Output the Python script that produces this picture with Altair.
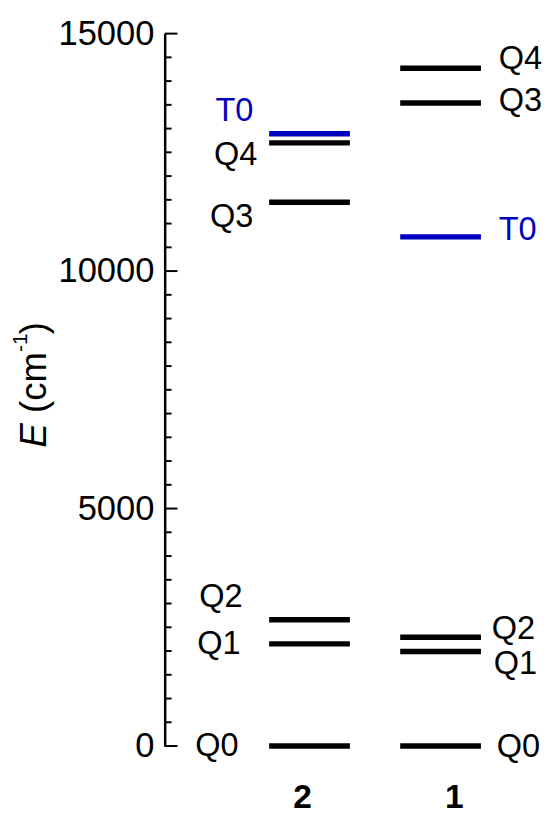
import altair as alt
import pandas as pd

# ---- data ----
states = ["Q0", "Q1", "Q2", "Q3", "Q4", "T0"]
energy_col2 = [0, 2150, 2660, 11450, 12700, 12890]   # column labelled "2"
energy_col1 = [0, 1990, 2290, 13540, 14270, 10720]   # column labelled "1"
columns = ["2", "1"]
column_pos = [1, 2]
y_major = [0, 5000, 10000, 15000]
y_minor = [v for v in range(500, 15000, 500) if v % 5000 != 0]

# ---- styling / layout (not data) ----
FONT = "Liberation Sans"
BLUE = "#0000c0"
HALF = 0.308           # half-length of a level line in x units
W, H = 388, 723
# label nudges (gap px from line end, dy px)
nudge_col2 = {"T0": (16, -23), "Q4": (12, 12), "Q3": (16, 15),
              "Q2": (27, -23), "Q1": (29, 0), "Q0": (31, 0)}
nudge_col1 = {"Q4": (18, -9), "Q3": (18, -2), "T0": (18, -7),
              "Q2": (11, -8), "Q1": (13, 13), "Q0": (16, 1)}
col_label_dx = {"2": -7, "1": 14}

rows = []
for col, pos, energies in [("2", column_pos[0], energy_col2), ("1", column_pos[1], energy_col1)]:
    for s, e in zip(states, energies):
        rows.append({"col": col, "pos": pos, "state": s, "E": e,
                     "kind": "T" if s.startswith("T") else "Q"})
levels = pd.DataFrame(rows)

xscale = alt.Scale(domain=[-0.105, 2.812], nice=False, zero=False)
yscale = alt.Scale(domain=[0, 15000], nice=False)
cscale = alt.Scale(domain=["Q", "T"], range=["#000000", BLUE])

yaxis = alt.Axis(values=y_major, format="d", domain=True, domainColor="black", domainWidth=2.5,
                 ticks=False, tickSize=0, grid=False, title=None,
                 labelFontSize=35, labelFont=FONT, labelColor="black",
                 labelPadding=11, labelFlush=False, labelOverlap=False)


def Y(field):
    return alt.Y(field, scale=yscale, axis=yaxis)


base = alt.Chart(levels)

lines = base.mark_rule(strokeWidth=5.5).transform_calculate(
    x1=f"datum.pos - {HALF}", x2=f"datum.pos + {HALF}"
).encode(
    x=alt.X("x1:Q", scale=xscale, axis=None),
    x2="x2:Q",
    y=Y("E:Q"),
    color=alt.Color("kind:N", scale=cscale, legend=None),
)

layers = [lines]

# level labels
for col, nud, side in [("2", nudge_col2, -1), ("1", nudge_col1, 1)]:
    for s, (gap, dy) in nud.items():
        lay = base.transform_filter(
            (alt.datum.col == col) & (alt.datum.state == s)
        ).transform_calculate(
            lx=f"datum.pos + ({side}) * {HALF}"
        ).mark_text(
            font=FONT, fontSize=33, baseline="middle",
            align="right" if side < 0 else "left",
            dx=side * gap, dy=dy,
        ).encode(
            x=alt.X("lx:Q", scale=xscale, axis=None),
            y=Y("E:Q"),
            text="state:N",
            color=alt.Color("kind:N", scale=cscale, legend=None),
        )
        layers.append(lay)

# inward ticks
major_df = pd.DataFrame({"v": y_major})
minor_df = pd.DataFrame({"v": y_minor})
layers.append(alt.Chart(major_df).mark_rule(strokeWidth=2, color="black").encode(
    y=Y("v:Q"), x=alt.value(0), x2=alt.value(13)))
layers.append(alt.Chart(minor_df).mark_rule(strokeWidth=2, color="black").encode(
    y=Y("v:Q"), x=alt.value(0), x2=alt.value(7)))

# column labels
col_df = pd.DataFrame({"col": columns, "pos": column_pos})
for c in columns:
    layers.append(alt.Chart(col_df).transform_filter(alt.datum.col == c).mark_text(
        font=FONT, fontSize=34, fontWeight="bold", baseline="alphabetic",
        align="center", dx=col_label_dx[c], color="black"
    ).encode(x=alt.X("pos:Q", scale=xscale, axis=None), y=alt.value(H + 63), text="col:N"))

# y-axis title: E (cm^-1)
title_parts = [
    ("E", 37, "italic", -120, 420),
    ("(cm", 37, "normal", -120, 385),
    ("-1", 21, "normal", -140, 323),
    (")", 37, "normal", -120, 305),
]
for txt, size, style, px, py in title_parts:
    layers.append(alt.Chart(pd.DataFrame({"t": [txt]})).mark_text(
        font=FONT, fontSize=size, fontStyle=style, angle=270,
        align="left", baseline="alphabetic", color="black"
    ).encode(x=alt.value(px), y=alt.value(py), text="t:N"))

chart = alt.layer(*layers).properties(
    width=W, height=H,
    autosize=alt.AutoSizeParams(type="none"),
    padding={"left": 159, "top": 20, "right": 0, "bottom": 63},
    background="white",
).configure_view(stroke=None)

chart.save("out.html", embed_options={"renderer": "svg", "actions": False})
